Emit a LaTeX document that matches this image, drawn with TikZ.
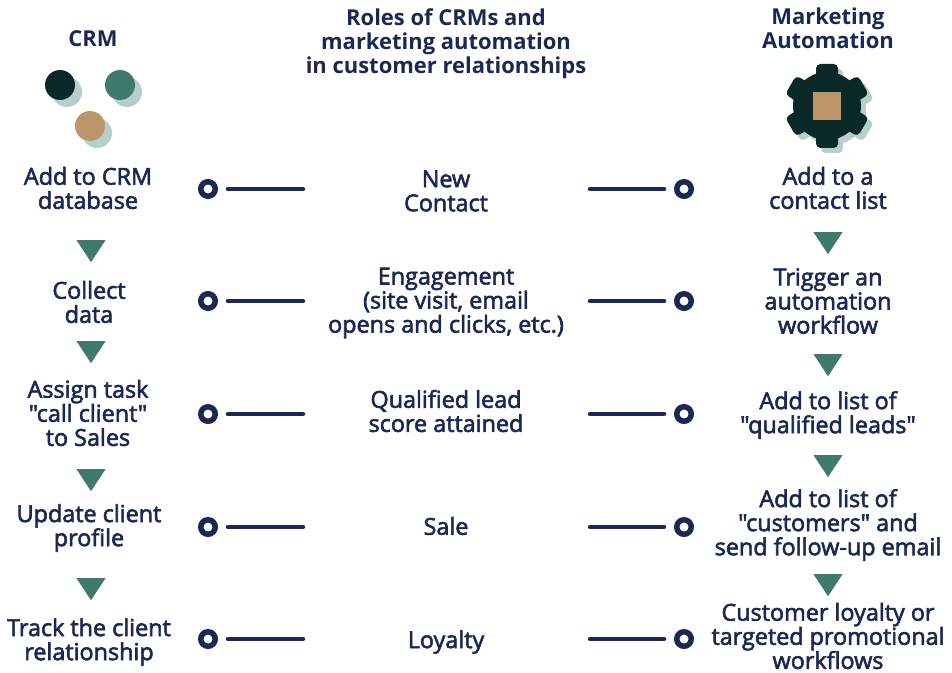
\documentclass[tikz,border=0pt]{standalone}
\usepackage{fontspec}
\setmainfont{Open Sans}[Ligatures=TeXOff]
\newfontfamily\bodyfont{Open Sans}[Ligatures=TeXOff,FakeBold=2.5]
\usetikzlibrary{shapes,positioning}
\definecolor{navyink}{RGB}{27,40,84}
\definecolor{darkpine}{RGB}{10,40,40}
\definecolor{pinegreen}{RGB}{63,122,108}
\definecolor{tanbrown}{RGB}{186,150,106}
\definecolor{paleteal}{RGB}{181,208,204}
\AtBeginDocument{\lineskiplimit=-8pt\relax}
\tikzstyle{label} = [align=center,text=navyink,font=\fontsize{13.3}{13.7}\selectfont\bodyfont,inner sep=0pt]
\tikzstyle{heading} = [align=center,text=navyink,font=\fontsize{12.5}{13.7}\selectfont\bfseries,inner sep=0pt]
\tikzstyle{ring} = [circle,draw=navyink,line width=1.1mm,fill=white,minimum size=0.29cm,inner sep=0pt]
\tikzstyle{link} = [line width=0.9mm,color=navyink,line cap=round,shorten <=0.2cm]
\tikzstyle{flow} = [isosceles triangle,shape border rotate=-90,isosceles triangle stretches,fill=pinegreen,minimum width=0.58cm,minimum height=0.44cm,inner sep=0pt]
\tikzstyle{dot} = [circle,minimum size=0.6cm,inner sep=0pt]
\begin{document}
\begin{tikzpicture}[x=0.02cm,y=-0.02cm]
    \useasboundingbox (0,0) rectangle (952,672);

    % Headings
    \node[heading] (crm) at (93,39) {CRM};
    \node[heading] (roles) at (446,44) {Roles of CRMs and\\marketing automation\\in customer relationships};
    \node[heading] (auto) at (828,28) {Marketing\\Automation};

    % CRM dots
    \node[dot, fill=paleteal] (d1s) at (67,92) {};
    \node[dot, fill=paleteal] (d2s) at (127,92) {};
    \node[dot, fill=paleteal] (d3s) at (97,133) {};
    \node[dot, fill=darkpine] (d1) at (60,85) {};
    \node[dot, fill=pinegreen] (d2) at (120,85) {};
    \node[dot, fill=tanbrown] (d3) at (90,126) {};

    % Gear
    \foreach \c/\dx in {paleteal/5,darkpine/0} {
        \fill[\c] (827+\dx,106+\dx) circle (34);
        \foreach \a in {30,90,150,210,270,330}
            \fill[\c, rounded corners=2.5pt, shift={(827+\dx,106+\dx)}, rotate=\a] (20,-11) rectangle (42,11);
    }
    \node[rectangle, fill=tanbrown, minimum size=0.56cm, inner sep=0pt] (core) at (827,106) {};

    % CRM steps
    \node[label] (c1) at (88,188) {Add to CRM\\database};
    \node[label] (c2) at (89,302) {Collect\\data};
    \node[label] (c3) at (88,413) {Assign task\\"call client"\\to Sales};
    \node[label] (c4) at (89,528) {Update client\\profile};
    \node[label] (c5) at (89,642) {Track the client\\relationship};
    \node[flow] (c1f) at (91,248) {};
    \node[flow] (c2f) at (91,349) {};
    \node[flow] (c3f) at (91,477) {};
    \node[flow] (c4f) at (91,586) {};

    % Stages
    \node[label] (s1) at (446,191) {New\\Contact};
    \node[label] (s2) at (446,303) {Engagement\\(site visit, email\\opens and clicks, etc.)};
    \node[label] (s3) at (446,411) {Qualified lead\\score attained};
    \node[label] (s4) at (446,526) {Sale};
    \node[label] (s5) at (446,642) {Loyalty};

    % Automation steps
    \node[label] (a1) at (828,188) {Add to a\\contact list};
    \node[label] (a2) at (828,301) {Trigger an\\automation\\workflow};
    \node[label] (a3) at (828,415) {Add to list of\\"qualified leads"};
    \node[label] (a4) at (828,525) {Add to list of\\"customers" and\\send follow-up email};
    \node[label] (a5) at (828,636) {Customer loyalty or\\targeted promotional\\workflows};
    \node[flow] (a1f) at (828,240) {};
    \node[flow] (a2f) at (828,362) {};
    \node[flow] (a3f) at (828,463) {};
    \node[flow] (a4f) at (828,582) {};

    % Left rings
    \node[ring] (lr1) at (208,189) {};
    \node[ring] (lr2) at (208,301) {};
    \node[ring] (lr3) at (208,414) {};
    \node[ring] (lr4) at (208,527) {};
    \node[ring] (lr5) at (208,639) {};
    \coordinate (le1) at (303,189);
    \coordinate (le2) at (303,301);
    \coordinate (le3) at (303,414);
    \coordinate (le4) at (303,527);
    \coordinate (le5) at (303,639);

    % Right rings
    \node[ring] (rr1) at (684,189) {};
    \node[ring] (rr2) at (684,301) {};
    \node[ring] (rr3) at (684,414) {};
    \node[ring] (rr4) at (684,527) {};
    \node[ring] (rr5) at (684,639) {};
    \coordinate (re1) at (590,189);
    \coordinate (re2) at (590,301);
    \coordinate (re3) at (590,414);
    \coordinate (re4) at (590,527);
    \coordinate (re5) at (590,639);

    % Connecting lines
    \draw[link] (lr1) -- (le1);
    \draw[link] (lr2) -- (le2);
    \draw[link] (lr3) -- (le3);
    \draw[link] (lr4) -- (le4);
    \draw[link] (lr5) -- (le5);
    \draw[link] (rr1) -- (re1);
    \draw[link] (rr2) -- (re2);
    \draw[link] (rr3) -- (re3);
    \draw[link] (rr4) -- (re4);
    \draw[link] (rr5) -- (re5);
\end{tikzpicture}
\end{document}
